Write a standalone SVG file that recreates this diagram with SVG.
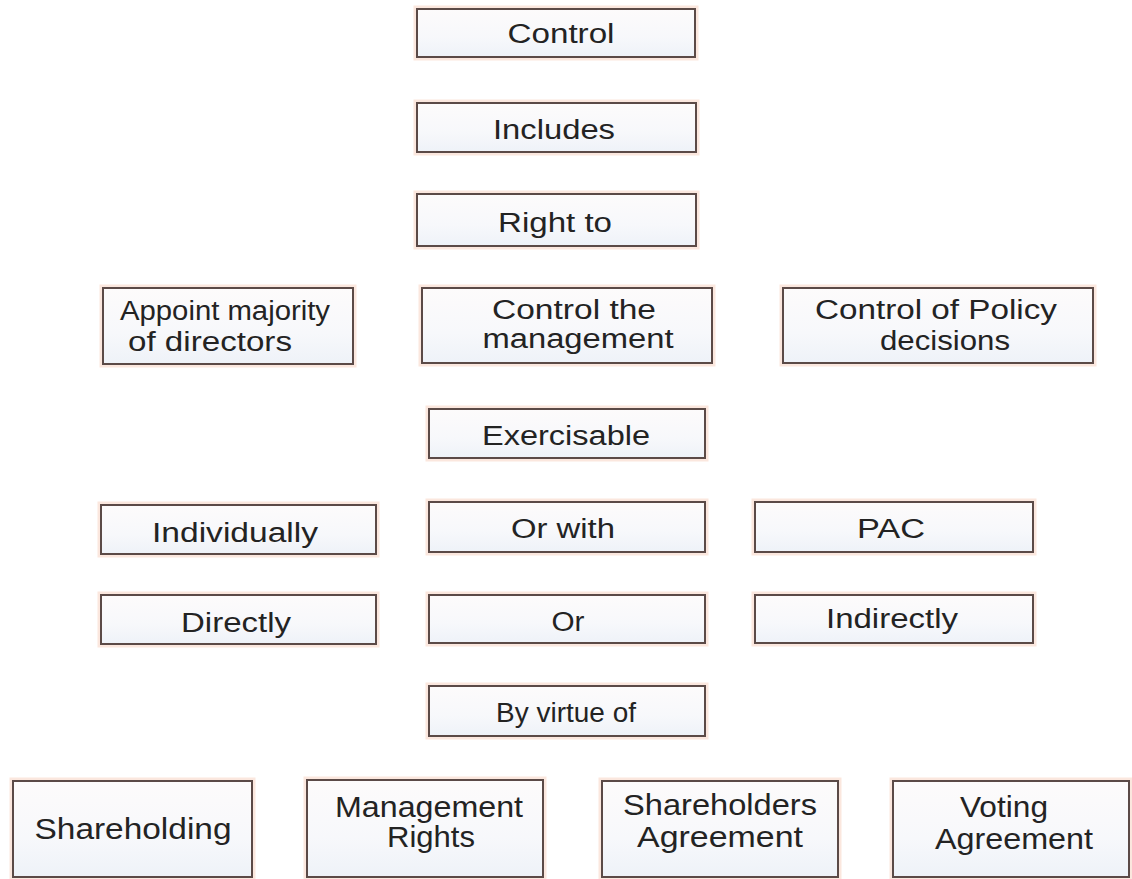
<svg xmlns="http://www.w3.org/2000/svg" width="1132" height="879" viewBox="0 0 1132 879">
<defs>
<linearGradient id="fillg" x1="0" y1="0" x2="0" y2="1">
<stop offset="0" stop-color="#fdfbfb"/>
<stop offset="0.6" stop-color="#f7f8fb"/>
<stop offset="1" stop-color="#eef2f8"/>
</linearGradient>
<style>
.glow{fill:none;stroke:#fbe7de;stroke-width:7;}
.box{fill:url(#fillg);stroke:#5b4a47;stroke-width:2;}
text{font-family:"Liberation Sans",Arial,sans-serif;fill:#232323;text-anchor:middle;}
.s{font-size:27px;}
.m{font-size:27px;}
.l{font-size:30px;}
</style>
</defs>
<rect width="1132" height="879" fill="#ffffff"/>
<g id="connectors"/>
<g id="n-control"><rect class="glow" x="417" y="9" width="278" height="48"/><rect class="box" x="417" y="9" width="278" height="48"/><text class="s" x="561" y="43" textLength="107" lengthAdjust="spacingAndGlyphs">Control</text></g>
<g id="n-includes"><rect class="glow" x="417" y="103" width="279" height="49"/><rect class="box" x="417" y="103" width="279" height="49"/><text class="s" x="554" y="139" textLength="122" lengthAdjust="spacingAndGlyphs">Includes</text></g>
<g id="n-rightto"><rect class="glow" x="417" y="194" width="279" height="52"/><rect class="box" x="417" y="194" width="279" height="52"/><text class="s" x="555" y="232" textLength="114" lengthAdjust="spacingAndGlyphs">Right to</text></g>
<g id="n-appoint"><rect class="glow" x="103" y="288" width="250" height="76"/><rect class="box" x="103" y="288" width="250" height="76"/><text class="m" x="225" y="320" textLength="210" lengthAdjust="spacingAndGlyphs">Appoint majority</text><text class="m" x="210" y="351" textLength="164" lengthAdjust="spacingAndGlyphs">of directors</text></g>
<g id="n-management"><rect class="glow" x="422" y="288" width="290" height="75"/><rect class="box" x="422" y="288" width="290" height="75"/><text class="m" x="574" y="319" textLength="164" lengthAdjust="spacingAndGlyphs">Control the</text><text class="m" x="578" y="348" textLength="191" lengthAdjust="spacingAndGlyphs">management</text></g>
<g id="n-policy"><rect class="glow" x="783" y="288" width="310" height="75"/><rect class="box" x="783" y="288" width="310" height="75"/><text class="m" x="936" y="319" textLength="242" lengthAdjust="spacingAndGlyphs">Control of Policy</text><text class="m" x="945" y="350" textLength="130" lengthAdjust="spacingAndGlyphs">decisions</text></g>
<g id="n-exercisable"><rect class="glow" x="429" y="409" width="276" height="49"/><rect class="box" x="429" y="409" width="276" height="49"/><text class="s" x="566" y="445" textLength="168" lengthAdjust="spacingAndGlyphs">Exercisable</text></g>
<g id="n-individually"><rect class="glow" x="101" y="505" width="275" height="49"/><rect class="box" x="101" y="505" width="275" height="49"/><text class="s" x="235" y="542" textLength="166" lengthAdjust="spacingAndGlyphs">Individually</text></g>
<g id="n-orwith"><rect class="glow" x="429" y="502" width="276" height="50"/><rect class="box" x="429" y="502" width="276" height="50"/><text class="s" x="563" y="538" textLength="104" lengthAdjust="spacingAndGlyphs">Or with</text></g>
<g id="n-pac"><rect class="glow" x="755" y="502" width="278" height="50"/><rect class="box" x="755" y="502" width="278" height="50"/><text class="s" x="891" y="538" textLength="68" lengthAdjust="spacingAndGlyphs">PAC</text></g>
<g id="n-directly"><rect class="glow" x="101" y="595" width="275" height="49"/><rect class="box" x="101" y="595" width="275" height="49"/><text class="s" x="236" y="632" textLength="110" lengthAdjust="spacingAndGlyphs">Directly</text></g>
<g id="n-or"><rect class="glow" x="429" y="595" width="276" height="48"/><rect class="box" x="429" y="595" width="276" height="48"/><text class="s" x="568" y="631" textLength="33" lengthAdjust="spacingAndGlyphs">Or</text></g>
<g id="n-indirectly"><rect class="glow" x="755" y="595" width="278" height="48"/><rect class="box" x="755" y="595" width="278" height="48"/><text class="s" x="892" y="628" textLength="132" lengthAdjust="spacingAndGlyphs">Indirectly</text></g>
<g id="n-byvirtue"><rect class="glow" x="429" y="686" width="276" height="50"/><rect class="box" x="429" y="686" width="276" height="50"/><text class="s" x="566" y="722" textLength="140" lengthAdjust="spacingAndGlyphs">By virtue of</text></g>
<g id="n-shareholding"><rect class="glow" x="13" y="781" width="239" height="96"/><rect class="box" x="13" y="781" width="239" height="96"/><text class="l" x="133" y="839" textLength="197" lengthAdjust="spacingAndGlyphs">Shareholding</text></g>
<g id="n-mgmtrights"><rect class="glow" x="307" y="780" width="236" height="97"/><rect class="box" x="307" y="780" width="236" height="97"/><text class="l" x="429" y="817" textLength="188" lengthAdjust="spacingAndGlyphs">Management</text><text class="l" x="431" y="847" textLength="88" lengthAdjust="spacingAndGlyphs">Rights</text></g>
<g id="n-shareholders"><rect class="glow" x="602" y="781" width="236" height="96"/><rect class="box" x="602" y="781" width="236" height="96"/><text class="l" x="720" y="815" textLength="194" lengthAdjust="spacingAndGlyphs">Shareholders</text><text class="l" x="720" y="847" textLength="166" lengthAdjust="spacingAndGlyphs">Agreement</text></g>
<g id="n-voting"><rect class="glow" x="893" y="781" width="236" height="96"/><rect class="box" x="893" y="781" width="236" height="96"/><text class="l" x="1004" y="817" textLength="88" lengthAdjust="spacingAndGlyphs">Voting</text><text class="l" x="1014" y="849" textLength="158" lengthAdjust="spacingAndGlyphs">Agreement</text></g>
</svg>
